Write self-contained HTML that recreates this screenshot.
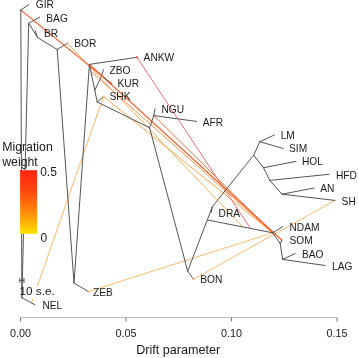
<!DOCTYPE html>
<html><head><meta charset="utf-8"><title>TreeMix</title>
<style>
html,body{margin:0;padding:0;background:#fff;}
body{width:359px;height:358px;overflow:hidden;}
svg{display:block;}
text{font-family:"Liberation Sans",Arial,Helvetica,sans-serif;fill:#1a1a1a;}
.pop{font-size:10.2px;}
.ax{font-size:10.8px;}
.lg{font-size:12.3px;}
</style></head><body>
<svg width="359" height="358" viewBox="0 0 359 358">
<defs><linearGradient id="g" x1="0" y1="0" x2="0" y2="1">
<stop offset="0" stop-color="#ff2612"/><stop offset="0.3" stop-color="#ff4410"/><stop offset="0.55" stop-color="#ff720c"/><stop offset="0.8" stop-color="#ffac08"/><stop offset="1" stop-color="#ffe400"/></linearGradient></defs>
<rect width="359" height="358" fill="#fff"/><g>
<g fill="none" stroke-linecap="round">
<line x1="103.5" y1="96.5" x2="31.6" y2="302.7" stroke="#ffb866" stroke-width="1"/>
<line x1="88.4" y1="291.6" x2="272.6" y2="232.8" stroke="#ffbb70" stroke-width="1"/>
<line x1="193.5" y1="279.2" x2="335" y2="200.4" stroke="#ffbb70" stroke-width="1"/>
<line x1="67.5" y1="43.3" x2="242.6" y2="226.6" stroke="#ffb060" stroke-width="1"/>
<line x1="103.5" y1="96.5" x2="272.6" y2="232.8" stroke="#ffa850" stroke-width="1"/>
<line x1="137" y1="57.3" x2="250.2" y2="228.2" stroke="#ff6e6e" stroke-width="1"/>
<line x1="91" y1="71.5" x2="272.6" y2="232.8" stroke="#ff9448" stroke-width="1"/>
<line x1="153.8" y1="115.6" x2="272.6" y2="232.8" stroke="#ff7038" stroke-width="1"/>
<line x1="20.8" y1="10" x2="111.75" y2="84" stroke="#ff6a3a" stroke-width="1.1"/>
<line x1="89.4" y1="64.4" x2="281.9" y2="240.2" stroke="#ff5a28" stroke-width="1.25"/>
</g>
<rect x="26" y="286.5" width="30" height="12.5" fill="#fff"/>
<g stroke="#555" stroke-width="1" stroke-linecap="round" fill="none">
<line x1="20.8" y1="10" x2="28.7" y2="4.7"/>
<line x1="20.8" y1="10" x2="21.9" y2="297.8"/>
<line x1="21.9" y1="297.8" x2="35.1" y2="304.8"/>
<line x1="21.9" y1="297.8" x2="28.7" y2="23.3"/>
<line x1="28.7" y1="23.3" x2="39.7" y2="17.2"/>
<line x1="28.7" y1="23.3" x2="37.5" y2="37.5"/>
<line x1="35.3" y1="30.6" x2="37.5" y2="37.5"/>
<line x1="37.5" y1="37.5" x2="57.2" y2="49.5"/>
<line x1="57.2" y1="49.5" x2="67.5" y2="43.3"/>
<line x1="57.2" y1="49.5" x2="74" y2="283"/>
<line x1="74" y1="283" x2="88.4" y2="291.6"/>
<line x1="74" y1="283" x2="89.4" y2="64.4"/>
<line x1="89.4" y1="64.4" x2="137" y2="57.3"/>
<line x1="89.4" y1="64.4" x2="94.8" y2="90.2"/>
<line x1="94.8" y1="90.2" x2="101.6" y2="75.8"/>
<line x1="101.6" y1="75.8" x2="103.5" y2="69.7"/>
<line x1="101.6" y1="75.8" x2="111.75" y2="84"/>
<line x1="94.8" y1="90.2" x2="97.2" y2="102"/>
<line x1="97.2" y1="102" x2="103.5" y2="96.5"/>
<line x1="97.2" y1="102" x2="149.6" y2="127.7"/>
<line x1="149.6" y1="127.7" x2="153.8" y2="115.6"/>
<line x1="153.8" y1="115.6" x2="155" y2="108.8"/>
<line x1="153.8" y1="115.6" x2="196.6" y2="121.4"/>
<line x1="149.6" y1="127.7" x2="187.7" y2="271.2"/>
<line x1="187.7" y1="271.2" x2="193.5" y2="279.2"/>
<line x1="187.7" y1="271.2" x2="212.3" y2="206.8"/>
<line x1="212.3" y1="206.8" x2="211.3" y2="212.3"/>
<line x1="207.6" y1="220" x2="272.6" y2="232.8"/>
<line x1="212.3" y1="206.8" x2="253.7" y2="155.2"/>
<line x1="253.7" y1="155.2" x2="259.8" y2="141.7"/>
<line x1="259.8" y1="141.7" x2="274.3" y2="135"/>
<line x1="259.8" y1="141.7" x2="283.2" y2="148.5"/>
<line x1="253.7" y1="155.2" x2="263.5" y2="167.7"/>
<line x1="263.5" y1="167.7" x2="296" y2="161.4"/>
<line x1="263.5" y1="167.7" x2="269.8" y2="180.4"/>
<line x1="269.8" y1="180.4" x2="329" y2="174.3"/>
<line x1="269.8" y1="180.4" x2="282" y2="194.2"/>
<line x1="282" y1="194.2" x2="314" y2="188"/>
<line x1="282" y1="194.2" x2="335" y2="200.4"/>
<line x1="272.6" y1="232.8" x2="282.7" y2="226.7"/>
<line x1="272.6" y1="232.8" x2="280.2" y2="243.5"/>
<line x1="280.2" y1="243.5" x2="281.9" y2="240.2"/>
<line x1="280.2" y1="243.5" x2="282.7" y2="259.4"/>
<line x1="282.7" y1="259.4" x2="295.3" y2="253.5"/>
<line x1="282.7" y1="259.4" x2="325" y2="265.5"/>
</g>
<path d="M111.9 84.2 L108.6 83.4 L110.4 81.2 Z" fill="#ff5030"/>
<circle cx="137" cy="57.3" r="1.1" fill="#ff4a3a"/>
<circle cx="67.5" cy="43.3" r="1" fill="#ffa850"/>
<circle cx="103.5" cy="96.5" r="1" fill="#ffa850"/>
<circle cx="102.3" cy="76.4" r="1" fill="#ff8a30"/>
<circle cx="193.5" cy="279.2" r="1" fill="#ffb060"/>
<circle cx="88.4" cy="291.6" r="1" fill="#ffb866"/>
<rect x="20.1" y="170.2" width="17" height="63.6" fill="url(#g)"/>
<text class="lg" x="2.2" y="151.3">Migration</text>
<text class="lg" x="2.2" y="165.5">weight</text>
<text class="lg" x="40.2" y="176" style="font-size:12px">0.5</text>
<text class="lg" x="40.5" y="242.2" style="font-size:12px">0</text>
<g stroke="#555" stroke-width="1" fill="none"><path d="M19.8 280.4H24M19.8 278v4.8M24 278v4.8"/></g>
<text class="ax" x="19.4" y="295" style="font-size:11.8px">10 s.e.</text>
<path d="M20.5 317.5H337" stroke="#bdbdbd" stroke-width="1" fill="none"/>
<g stroke="#777" stroke-width="1" fill="none">
<path d="M20.5 317.5v4"/>
<path d="M126.1 317.5v4"/>
<path d="M231.5 317.5v4"/>
<path d="M337 317.5v4"/>
</g>
<text class="ax" x="20.5" y="337" text-anchor="middle">0.00</text>
<text class="ax" x="126.1" y="337" text-anchor="middle">0.05</text>
<text class="ax" x="231.5" y="337" text-anchor="middle">0.10</text>
<text class="ax" x="337" y="337" text-anchor="middle">0.15</text>
<text x="178.2" y="353.8" text-anchor="middle" style="font-size:12.6px">Drift parameter</text>
<text class="pop" x="35.8" y="8.4">GIR</text>
<text class="pop" x="46.3" y="22">BAG</text>
<text class="pop" x="44" y="36.5">BR</text>
<text class="pop" x="74.2" y="46.8">BOR</text>
<text class="pop" x="143.6" y="60.5">ANKW</text>
<text class="pop" x="109.5" y="73.5">ZBO</text>
<text class="pop" x="117.5" y="86.5">KUR</text>
<text class="pop" x="109.5" y="100">SHK</text>
<text class="pop" x="161.4" y="113.1">NGU</text>
<text class="pop" x="202.8" y="125.7">AFR</text>
<text class="pop" x="280.7" y="138.7">LM</text>
<text class="pop" x="289" y="152">SIM</text>
<text class="pop" x="302" y="165.2">HOL</text>
<text class="pop" x="336" y="178.5">HFD</text>
<text class="pop" x="320.3" y="191.5">AN</text>
<text class="pop" x="341.6" y="204.5">SH</text>
<text class="pop" x="218.6" y="217.2">DRA</text>
<text class="pop" x="289.5" y="230.5">NDAM</text>
<text class="pop" x="289.5" y="244">SOM</text>
<text class="pop" x="302" y="257.5">BAO</text>
<text class="pop" x="332" y="269.5">LAG</text>
<text class="pop" x="200.3" y="283.2">BON</text>
<text class="pop" x="93" y="295.8">ZEB</text>
<text class="pop" x="42.4" y="309">NEL</text>
</g></svg></body></html>
